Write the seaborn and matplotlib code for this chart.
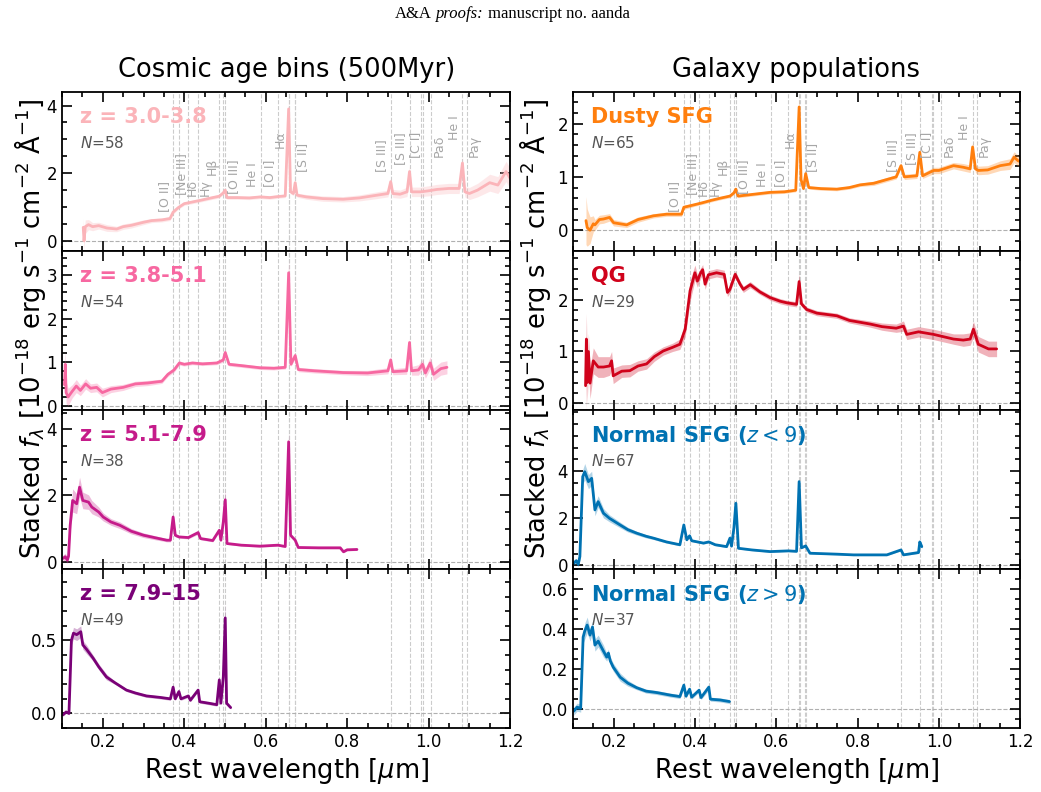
import numpy as np
import matplotlib
matplotlib.use("Agg")
import matplotlib.pyplot as plt
import matplotlib.transforms as mtransforms
from matplotlib.ticker import FixedLocator, AutoMinorLocator
import seaborn as sns

# ---------------- data ----------------
# wavelengths in micron, stacked flux in 1e-18 erg/s/cm2/A, 1-sigma band

# z = 3.0-3.8
wl_z1 = [0.152, 0.154, 0.157, 0.165, 0.175, 0.19, 0.21, 0.234, 0.25, 0.27, 0.30, 0.32, 0.345, 0.365,
         0.3727, 0.385, 0.40, 0.42, 0.44, 0.47, 0.4861, 0.4959, 0.5007, 0.505, 0.53, 0.56, 0.587, 0.61,
         0.63, 0.648, 0.6563, 0.661, 0.668, 0.6724, 0.677, 0.70, 0.74, 0.79, 0.83, 0.873, 0.90, 0.9069,
         0.912, 0.93, 0.947, 0.9531, 0.958, 0.98, 1.00, 1.02, 1.05, 1.075, 1.083, 1.089, 1.10, 1.12,
         1.15, 1.17, 1.19, 1.20]
fx_z1 = [0.40, 0.00, 0.42, 0.48, 0.42, 0.45, 0.38, 0.35, 0.42, 0.46, 0.55, 0.60, 0.62, 0.66,
         0.85, 0.98, 1.10, 1.15, 1.20, 1.28, 1.32, 1.42, 1.50, 1.28, 1.28, 1.27, 1.30, 1.28,
         1.31, 1.33, 3.90, 1.45, 1.40, 1.72, 1.35, 1.30, 1.25, 1.23, 1.27, 1.35, 1.40, 1.75,
         1.40, 1.38, 1.45, 2.05, 1.45, 1.45, 1.48, 1.52, 1.55, 1.55, 2.30, 1.45, 1.40, 1.50,
         1.72, 1.65, 2.05, 1.85]
er_z1 = [0.25, 0.25, 0.20, 0.15, 0.12, 0.10, 0.10, 0.08, 0.08, 0.08, 0.07, 0.06, 0.06, 0.06,
         0.06, 0.05, 0.05, 0.05, 0.05, 0.05, 0.05, 0.05, 0.06, 0.05, 0.05, 0.05, 0.05, 0.05,
         0.05, 0.05, 0.30, 0.06, 0.06, 0.08, 0.06, 0.07, 0.08, 0.08, 0.09, 0.10, 0.10, 0.12,
         0.12, 0.12, 0.14, 0.18, 0.14, 0.14, 0.15, 0.15, 0.15, 0.15, 0.20, 0.15, 0.18, 0.20,
         0.25, 0.25, 0.30, 0.30]

# z = 3.8-5.1
wl_z2 = [0.106, 0.108, 0.110, 0.115, 0.125, 0.135, 0.145, 0.158, 0.17, 0.185, 0.199, 0.22, 0.25,
         0.28, 0.31, 0.345, 0.36, 0.375, 0.388, 0.40, 0.42, 0.445, 0.48, 0.4959, 0.5007, 0.51,
         0.54, 0.586, 0.62, 0.648, 0.6563, 0.662, 0.6724, 0.68, 0.72, 0.79, 0.85, 0.90, 0.9069,
         0.912, 0.946, 0.9531, 0.958, 0.975, 0.985, 0.992, 1.004, 1.012, 1.03, 1.045]
fx_z2 = [0.48, 0.95, 0.30, 0.20, 0.33, 0.45, 0.35, 0.50, 0.40, 0.42, 0.30, 0.38, 0.42,
         0.50, 0.52, 0.56, 0.72, 0.82, 0.98, 0.95, 0.98, 0.96, 0.98, 1.05, 1.22, 0.95,
         0.92, 0.87, 0.86, 0.88, 3.05, 0.95, 1.15, 0.83, 0.80, 0.76, 0.75, 0.80, 1.05,
         0.78, 0.80, 1.45, 0.80, 0.82, 0.95, 0.75, 0.98, 0.72, 0.85, 0.88]
er_z2 = [0.30, 0.30, 0.25, 0.20, 0.15, 0.15, 0.12, 0.12, 0.10, 0.10, 0.10, 0.08, 0.07,
         0.06, 0.06, 0.05, 0.05, 0.05, 0.05, 0.04, 0.04, 0.04, 0.04, 0.05, 0.06, 0.04,
         0.04, 0.04, 0.04, 0.04, 0.30, 0.05, 0.06, 0.05, 0.05, 0.05, 0.06, 0.07, 0.08,
         0.07, 0.08, 0.10, 0.10, 0.12, 0.12, 0.12, 0.14, 0.14, 0.15, 0.15]

# z = 5.1-7.9
wl_z3 = [0.102, 0.108, 0.113, 0.116, 0.120, 0.126, 0.136, 0.143, 0.151, 0.165, 0.173, 0.19, 0.201,
         0.22, 0.242, 0.27, 0.30, 0.33, 0.357, 0.366, 0.3727, 0.378, 0.3869, 0.41, 0.4341, 0.44,
         0.47, 0.4861, 0.490, 0.4959, 0.5007, 0.505, 0.54, 0.586, 0.63, 0.648, 0.6563, 0.661,
         0.6724, 0.68, 0.73, 0.783, 0.791, 0.80, 0.824]
fx_z3 = [0.10, 0.15, 0.05, 0.17, 1.10, 1.85, 1.75, 2.25, 1.85, 1.80, 1.65, 1.50, 1.35,
         1.20, 1.10, 0.92, 0.80, 0.72, 0.65, 0.65, 1.35, 0.80, 0.75, 0.73, 0.88, 0.70,
         0.64, 0.95, 0.65, 1.20, 1.87, 0.55, 0.50, 0.47, 0.50, 0.46, 3.62, 0.80,
         0.65, 0.43, 0.42, 0.42, 0.30, 0.36, 0.37]
er_z3 = [0.10, 0.10, 0.10, 0.10, 0.20, 0.35, 0.30, 0.30, 0.25, 0.22, 0.20, 0.15, 0.12,
         0.10, 0.10, 0.08, 0.07, 0.06, 0.05, 0.05, 0.10, 0.05, 0.04, 0.04, 0.05, 0.04,
         0.04, 0.05, 0.04, 0.10, 0.30, 0.03, 0.03, 0.03, 0.03, 0.03, 0.30, 0.05,
         0.04, 0.03, 0.03, 0.03, 0.03, 0.03, 0.03]

# z = 7.9-15
wl_z4 = [0.102, 0.110, 0.117, 0.123, 0.128, 0.136, 0.146, 0.151, 0.16, 0.176, 0.19, 0.209, 0.23,
         0.258, 0.28, 0.307, 0.34, 0.366, 0.3727, 0.378, 0.3869, 0.392, 0.4102, 0.415, 0.4341,
         0.438, 0.46, 0.480, 0.4861, 0.490, 0.4959, 0.5007, 0.504, 0.514]
fx_z4 = [-0.01, 0.01, 0.00, 0.50, 0.55, 0.54, 0.56, 0.47, 0.44, 0.38, 0.32, 0.25, 0.21,
         0.16, 0.14, 0.12, 0.11, 0.10, 0.18, 0.10, 0.15, 0.10, 0.12, 0.09, 0.16,
         0.08, 0.07, 0.06, 0.23, 0.07, 0.25, 0.655, 0.07, 0.04]
er_z4 = [0.01, 0.01, 0.01, 0.03, 0.04, 0.04, 0.04, 0.03, 0.03, 0.02, 0.02, 0.02, 0.01,
         0.01, 0.01, 0.01, 0.01, 0.01, 0.02, 0.01, 0.01, 0.01, 0.01, 0.01, 0.01,
         0.01, 0.01, 0.01, 0.02, 0.01, 0.03, 0.10, 0.01, 0.01]

# Dusty SFG
wl_dusty = [0.132, 0.135, 0.142, 0.150, 0.154, 0.165, 0.175, 0.19, 0.20, 0.232, 0.26, 0.298, 0.33,
            0.367, 0.3727, 0.40, 0.421, 0.44, 0.462, 0.4861, 0.4959, 0.5007, 0.506, 0.54, 0.585,
            0.62, 0.648, 0.6563, 0.661, 0.667, 0.6724, 0.68, 0.71, 0.749, 0.78, 0.806, 0.84,
            0.872, 0.895, 0.9069, 0.915, 0.946, 0.9531, 0.960, 0.987, 1.00, 1.036, 1.06, 1.077,
            1.083, 1.090, 1.097, 1.12, 1.151, 1.175, 1.185, 1.195, 1.204]
fx_dusty = [0.18, 0.05, 0.00, 0.12, 0.10, 0.20, 0.21, 0.24, 0.14, 0.10, 0.20, 0.27, 0.30,
            0.30, 0.43, 0.48, 0.52, 0.56, 0.60, 0.64, 0.70, 0.77, 0.64, 0.67, 0.71,
            0.72, 0.75, 2.31, 0.95, 0.78, 1.06, 0.80, 0.78, 0.77, 0.80, 0.85, 0.88,
            0.95, 1.00, 1.21, 1.00, 1.02, 1.46, 1.02, 1.12, 1.12, 1.21, 1.18, 1.15,
            1.56, 1.15, 1.12, 1.13, 1.21, 1.24, 1.37, 1.30, 1.28]
er_dusty = [0.45, 0.35, 0.25, 0.15, 0.10, 0.08, 0.08, 0.07, 0.06, 0.05, 0.05, 0.04, 0.04,
            0.04, 0.04, 0.03, 0.03, 0.03, 0.03, 0.03, 0.03, 0.04, 0.03, 0.03, 0.03,
            0.03, 0.03, 0.20, 0.04, 0.03, 0.04, 0.03, 0.03, 0.03, 0.03, 0.03, 0.04,
            0.04, 0.04, 0.05, 0.05, 0.05, 0.06, 0.05, 0.06, 0.06, 0.06, 0.07, 0.07,
            0.10, 0.07, 0.08, 0.08, 0.09, 0.10, 0.10, 0.10, 0.10]

# QG
wl_qg = [0.131, 0.133, 0.135, 0.138, 0.142, 0.150, 0.162, 0.175, 0.190, 0.195, 0.199, 0.22, 0.240,
         0.260, 0.281, 0.30, 0.322, 0.345, 0.363, 0.376, 0.388, 0.400, 0.406, 0.413, 0.419, 0.425,
         0.433, 0.453, 0.472, 0.480, 0.486, 0.499, 0.511, 0.519, 0.536, 0.56, 0.585, 0.61, 0.626,
         0.650, 0.6563, 0.662, 0.675, 0.70, 0.749, 0.78, 0.831, 0.86, 0.895, 0.913, 0.921, 0.95,
         0.987, 1.036, 1.06, 1.077, 1.085, 1.097, 1.122, 1.142]
fx_qg = [0.34, 1.24, 0.40, 1.00, 0.39, 0.82, 0.70, 0.70, 0.72, 0.82, 0.53, 0.62, 0.63,
         0.72, 0.76, 0.90, 1.01, 1.08, 1.14, 1.43, 2.17, 2.52, 2.36, 2.50, 2.58, 2.30,
         2.48, 2.52, 2.49, 2.14, 2.20, 2.49, 2.30, 2.20, 2.29, 2.15, 2.04, 1.97, 1.94,
         1.91, 2.35, 1.92, 1.81, 1.74, 1.69, 1.60, 1.53, 1.48, 1.45, 1.49, 1.33, 1.38,
         1.33, 1.24, 1.22, 1.24, 1.43, 1.14, 1.05, 1.05]
er_qg = [0.50, 0.50, 0.40, 0.35, 0.30, 0.25, 0.20, 0.20, 0.18, 0.18, 0.15, 0.12, 0.12,
         0.10, 0.10, 0.09, 0.08, 0.08, 0.10, 0.15, 0.20, 0.15, 0.12, 0.10, 0.10, 0.10,
         0.08, 0.08, 0.08, 0.08, 0.07, 0.07, 0.06, 0.06, 0.06, 0.05, 0.05, 0.05, 0.05,
         0.05, 0.15, 0.05, 0.05, 0.05, 0.05, 0.05, 0.06, 0.07, 0.08, 0.10, 0.10, 0.10,
         0.10, 0.10, 0.12, 0.12, 0.15, 0.15, 0.15, 0.15]

# Normal SFG (z < 9)
wl_sfg1 = [0.102, 0.108, 0.113, 0.117, 0.124, 0.129, 0.138, 0.146, 0.154, 0.162, 0.175, 0.19, 0.216,
           0.235, 0.257, 0.28, 0.298, 0.33, 0.363, 0.3727, 0.380, 0.3869, 0.392, 0.421, 0.4341,
           0.45, 0.478, 0.4861, 0.490, 0.4959, 0.5007, 0.507, 0.54, 0.585, 0.63, 0.650, 0.6563,
           0.662, 0.6724, 0.683, 0.75, 0.79, 0.872, 0.9069, 0.913, 0.950, 0.9531, 0.958]
fx_sfg1 = [0.10, 0.20, 0.05, 0.38, 3.77, 3.98, 3.56, 3.70, 2.36, 2.71, 2.22, 2.00, 1.72,
           1.52, 1.37, 1.24, 1.16, 1.00, 0.88, 1.72, 1.09, 1.26, 1.05, 0.95, 1.00,
           0.88, 0.80, 1.16, 0.82, 1.60, 2.64, 0.73, 0.66, 0.59, 0.62, 0.60, 3.56,
           0.75, 0.83, 0.52, 0.48, 0.45, 0.45, 0.66, 0.45, 0.55, 1.00, 0.80]
er_sfg1 = [0.10, 0.10, 0.10, 0.15, 0.30, 0.35, 0.30, 0.30, 0.25, 0.25, 0.20, 0.15, 0.12,
           0.10, 0.08, 0.07, 0.06, 0.05, 0.05, 0.08, 0.05, 0.05, 0.04, 0.04, 0.04,
           0.04, 0.04, 0.05, 0.04, 0.08, 0.25, 0.03, 0.03, 0.03, 0.03, 0.03, 0.15,
           0.03, 0.03, 0.03, 0.03, 0.03, 0.03, 0.04, 0.03, 0.04, 0.08, 0.08]

# Normal SFG (z > 9)
wl_sfg2 = [0.102, 0.110, 0.119, 0.125, 0.129, 0.135, 0.142, 0.148, 0.154, 0.162, 0.175, 0.183, 0.187,
           0.192, 0.199, 0.216, 0.235, 0.257, 0.28, 0.306, 0.34, 0.363, 0.3727, 0.378, 0.3869,
           0.392, 0.4102, 0.415, 0.4341, 0.438, 0.462, 0.485]
fx_sfg2 = [-0.01, 0.01, 0.005, 0.36, 0.39, 0.42, 0.37, 0.41, 0.32, 0.34, 0.29, 0.26, 0.28,
           0.24, 0.21, 0.16, 0.13, 0.107, 0.09, 0.083, 0.07, 0.063, 0.12, 0.065, 0.10,
           0.06, 0.095, 0.058, 0.11, 0.05, 0.046, 0.038]
er_sfg2 = [0.02, 0.02, 0.02, 0.03, 0.04, 0.04, 0.03, 0.03, 0.03, 0.03, 0.03, 0.02, 0.02,
           0.02, 0.02, 0.02, 0.015, 0.01, 0.01, 0.01, 0.01, 0.01, 0.015, 0.01, 0.01,
           0.01, 0.01, 0.01, 0.015, 0.01, 0.01, 0.01]

# emission lines marked in every panel
line_wl = [0.3727, 0.3869, 0.4102, 0.4341, 0.4861, 0.4959, 0.5007, 0.5876, 0.6300, 0.6563,
           0.6583, 0.6716, 0.6731, 0.9069, 0.9531, 0.9824, 0.9850, 1.0049, 1.0830, 1.0938]
# labelled lines (top row only)
label_names = ["[O II]", "[Ne III]", "Hδ", "Hγ", "Hβ", "[O III]", "He I", "[O I]", "Hα", "[S II]",
               "[S III]", "[S III]", "[C I]", "Paδ", "He I", "Paγ"]
label_wl = [0.3727, 0.3869, 0.4102, 0.4341, 0.4861, 0.5007, 0.5876, 0.6300, 0.6563, 0.6724,
            0.9069, 0.9531, 0.9850, 1.0049, 1.0830, 1.0938]
label_dx = [-0.022, 0.006, 0.010, 0.017, -0.017, 0.020, -0.021, -0.020, -0.021, 0.018,
            -0.022, -0.021, -0.016, 0.020, -0.020, 0.017]
label_y = [0.246, 0.351, 0.345, 0.345, 0.477, 0.357, 0.403, 0.400, 0.645, 0.498,
           0.498, 0.540, 0.582, 0.592, 0.700, 0.592]

left_panels = [
    (wl_z1, fx_z1, er_z1, "#fbb4b9", "z = 3.0-3.8", 58, (-0.3, 4.4), [0, 2, 4]),
    (wl_z2, fx_z2, er_z2, "#f768a1", "z = 3.8-5.1", 54, (-0.1, 3.55), [0, 1, 2, 3]),
    (wl_z3, fx_z3, er_z3, "#c51b8a", "z = 5.1-7.9", 38, (-0.22, 4.58), [0, 2, 4]),
    (wl_z4, fx_z4, er_z4, "#7a0177", "z = 7.9–15", 49, (-0.1, 0.99), [0.0, 0.5]),
]
right_panels = [
    (wl_dusty, fx_dusty, er_dusty, "#ff7f0e", "Dusty SFG", 65, (-0.39, 2.59), [0, 1, 2]),
    (wl_qg, fx_qg, er_qg, "#d0021b", "QG", 29, (-0.13, 2.94), [0, 1, 2]),
    (wl_sfg1, fx_sfg1, er_sfg1, "#0072b2", r"Normal SFG ($z<9$)", 67, (-0.15, 6.6), [0, 2, 4]),
    (wl_sfg2, fx_sfg2, er_sfg2, "#0072b2", r"Normal SFG ($z>9$)", 37, (-0.094, 0.70), [0.0, 0.2, 0.4, 0.6]),
]

# ---------------- style ----------------
sns.set_theme(style="ticks")
plt.rcParams["font.family"] = ["DejaVu Sans"]
plt.rcParams["mathtext.fontset"] = "dejavusans"
plt.rcParams["axes.edgecolor"] = "black"
plt.rcParams["axes.linewidth"] = 1.3
plt.rcParams["text.color"] = "black"
plt.rcParams["axes.labelcolor"] = "black"
plt.rcParams["xtick.color"] = "black"
plt.rcParams["ytick.color"] = "black"

fig = plt.figure(figsize=(10.41, 7.92), dpi=100)
gs_left = fig.add_gridspec(4, 1, left=0.0596, right=0.490, top=0.8838, bottom=0.0808, hspace=0)
gs_right = fig.add_gridspec(4, 1, left=0.5504, right=0.980, top=0.8838, bottom=0.0808, hspace=0)

ylab = r"Stacked $f_\lambda$ [$10^{-18}$ erg s$^{-1}$ cm$^{-2}$ Å$^{-1}$]"


def draw_panel(ax, wl, fx, er, color, name, n, ylim, yticks, top, bottom):
    wl = np.array(wl)
    fx = np.array(fx)
    er = np.array(er)
    for w in line_wl:
        ax.axvline(w, color="#cccccc", ls="--", lw=0.8, zorder=0)
    ax.axhline(0, color="#b0b0b0", ls="--", lw=0.8, zorder=0)
    ax.fill_between(wl, fx - er, fx + er, color=color, alpha=0.3, lw=0, zorder=1)
    sns.lineplot(x=wl, y=fx, ax=ax, color=color, lw=2, estimator=None, sort=False, zorder=2)
    ax.set_xlim(0.1, 1.2)
    ax.set_ylim(*ylim)
    ax.set_xticks([0.2, 0.4, 0.6, 0.8, 1.0, 1.2])
    ax.xaxis.set_minor_locator(AutoMinorLocator(4))
    ax.yaxis.set_major_locator(FixedLocator(yticks))
    step = yticks[1] - yticks[0]
    ax.yaxis.set_minor_locator(AutoMinorLocator(4 if step in (2, 0.2) else 5))
    ax.tick_params(which="both", direction="in", top=True, right=True, labelsize=12, width=1.2)
    ax.tick_params(which="major", length=7)
    ax.tick_params(which="minor", length=3.5)
    ax.set_ylabel("")
    if bottom:
        ax.set_xlabel(r"Rest wavelength [$\mu$m]", fontsize=18.5, labelpad=4)
    else:
        ax.set_xlabel("")
        ax.tick_params(labelbottom=False)
    ax.text(0.04, 0.84, name, transform=ax.transAxes, fontsize=15, fontweight="bold",
            color=color, va="center", ha="left")
    ax.text(0.04, 0.677, r"$N$=%d" % n, transform=ax.transAxes, fontsize=11,
            color="#555555", va="center", ha="left")
    if top:
        trans = mtransforms.blended_transform_factory(ax.transData, ax.transAxes)
        for t, w, dx, yy in zip(label_names, label_wl, label_dx, label_y):
            ax.text(w + dx, yy, t, transform=trans, rotation=90, ha="center", va="bottom",
                    fontsize=9, color="#a6a6a6")


for i, p in enumerate(left_panels):
    ax = fig.add_subplot(gs_left[i])
    draw_panel(ax, *p, top=(i == 0), bottom=(i == 3))
for i, p in enumerate(right_panels):
    ax = fig.add_subplot(gs_right[i])
    draw_panel(ax, *p, top=(i == 0), bottom=(i == 3))

fig.text(0.029, 0.585, ylab, rotation=90, ha="center", va="center", fontsize=18.5)
fig.text(0.514, 0.585, ylab, rotation=90, ha="center", va="center", fontsize=18.5)

fig.text(0.275, 0.911, "Cosmic age bins (500Myr)", ha="center", va="center", fontsize=18.5)
fig.text(0.765, 0.911, "Galaxy populations", ha="center", va="center", fontsize=18.5)

# running header
serif = ["Liberation Serif", "DejaVu Serif"]
h1 = fig.text(0.3795, 0.982, "A&A", ha="left", va="center", fontsize=12, family=serif)
h2 = ax.annotate("proofs:", xy=(1, 0), xycoords=h1, xytext=(3, 0), textcoords="offset points",
                 va="bottom", ha="left", fontsize=12, family=serif, style="italic")
ax.annotate("manuscript no. aanda", xy=(1, 0), xycoords=h2, xytext=(3, 0),
            textcoords="offset points", va="bottom", ha="left", fontsize=12, family=serif)

fig.savefig("out.png", dpi=100)
